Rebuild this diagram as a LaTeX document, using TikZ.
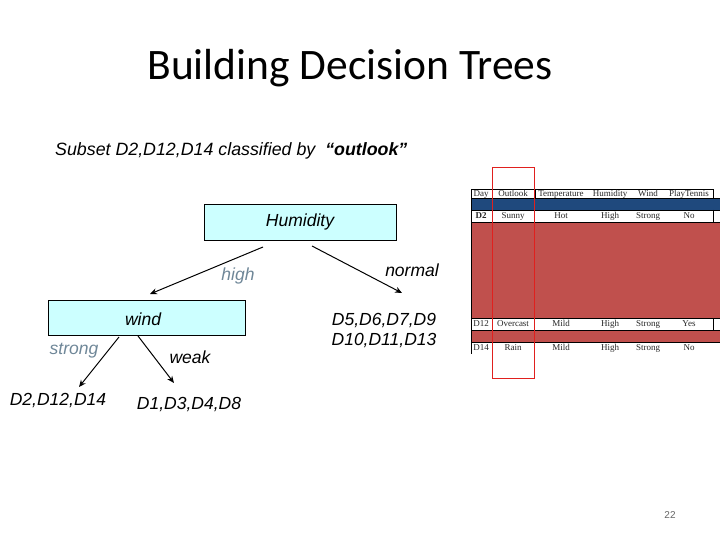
\documentclass[tikz,border=0pt]{standalone}
\usepackage{fontspec}
\setmainfont{Liberation Sans}
\newfontfamily\titlefont{Carlito}
\newfontfamily\tabfont{Liberation Serif}
\usetikzlibrary{arrows.meta}
\definecolor{boxfill}{HTML}{CCFFFF}
\definecolor{lblgray}{HTML}{6F8798}
\definecolor{bandblue}{HTML}{1F497D}
\definecolor{bandred}{HTML}{C0504D}
\definecolor{outred}{HTML}{E0201E}
\tikzset{
  x=1pt, y=-1pt,
  treebox/.style={draw=black, fill=boxfill, line width=0.8pt, inner sep=0pt},
  treetxt/.style={font=\fontsize{17.5}{20}\selectfont\itshape, inner sep=0pt},
  edgelbl/.style={treetxt, text=lblgray},
  arr/.style={-{Stealth[length=7pt,width=6pt]}, line width=1pt},
  tabtxt/.style={font=\tabfont\fontsize{9}{10}\selectfont, inner sep=0pt, text=black!85, text height=6.2pt, text depth=2pt},
  tabline/.style={draw=black, line width=0.6pt}
}
\begin{document}
\begin{tikzpicture}
\useasboundingbox (0,0) rectangle (720,540);
% title
\node[font=\titlefont\fontsize{43.5}{48}\selectfont, inner sep=0pt] (title) at (350,68) {Building Decision Trees};
\node[treetxt, font=\fontsize{17.8}{20}\selectfont\itshape, anchor=west] (sub) at (55,151) {Subset D2,D12,D14 classified by \ \textbf{``outlook''}};
% tree
\node[treebox, minimum width=192pt, minimum height=36pt] (hum) at (300,222) {};
\node[treetxt] (humt) at (hum.center) {Humidity};
\node[treebox, minimum width=197pt, minimum height=35pt] (wind) at (146.5,317.5) {};
\node[treetxt] (windt) at (143,319) {wind};
\coordinate (h1) at (263,247);
\coordinate (h2) at (150,294);
\coordinate (n1) at (312,246);
\coordinate (n2) at (402,293);
\coordinate (s1) at (119,337);
\coordinate (s2) at (79,387);
\coordinate (w1) at (138,336);
\coordinate (w2) at (174,383);
\draw[arr] (h1) -- (h2);
\draw[arr] (n1) -- (n2);
\draw[arr] (s1) -- (s2);
\draw[arr] (w1) -- (w2);
\node[edgelbl] (high) at (238,276) {high};
\node[treetxt] (normal) at (412,270) {normal};
\node[edgelbl] (strong) at (74,351) {strong};
\node[treetxt] (weak) at (190,357) {weak};
\node[treetxt] (leaf1) at (58,401) {D2,D12,D14};
\node[treetxt] (leaf2) at (189,405) {D1,D3,D4,D8};
\node[treetxt, align=center] (leaf3) at (384,331) {D5,D6,D7,D9\\D10,D11,D13};
% table
\fill[bandblue] (471,198) rectangle (720,210);
\draw[tabline] (471,198) -- (720,198) (471,210) -- (720,210) (471,198) -- (471,210);
\fill[bandred] (471,222) rectangle (720,318);
\draw[tabline] (471,222) -- (720,222) (471,318) -- (720,318) (471,222) -- (471,318);
\fill[bandred] (471,330) rectangle (720,342);
\draw[tabline] (471,330) -- (720,330) (471,342) -- (720,342) (471,330) -- (471,342);
\draw[tabline, line width=0.4pt] (471,189) rectangle (713,198);
\draw[tabline, line width=0.4pt] (535,189) -- (535,198);
\draw[tabline, line width=0.4pt] (471,210) -- (471,222) (713,210) -- (713,222) (492,210) -- (492,222);
\draw[tabline, line width=0.4pt] (471,318) -- (471,330) (713,318) -- (713,330) (492,318) -- (492,330);
\draw[tabline, line width=0.4pt] (471,342) -- (471,354) (492,342) -- (492,354);
\node[tabtxt] (hday) at (481,194) {Day};
\node[tabtxt] (hout) at (513,194) {Outlook};
\node[tabtxt] (htemp) at (561,194) {Temperature};
\node[tabtxt] (hhum) at (610,194) {Humidity};
\node[tabtxt] (hwind) at (648,194) {Wind};
\node[tabtxt] (hplay) at (689,194) {PlayTennis};
\node[tabtxt, font=\tabfont\fontsize{9}{10}\selectfont\bfseries] (r1a) at (481,216) {D2};
\node[tabtxt] (r1b) at (513,216) {Sunny};
\node[tabtxt] (r1c) at (561,216) {Hot};
\node[tabtxt] (r1d) at (610,216) {High};
\node[tabtxt] (r1e) at (648,216) {Strong};
\node[tabtxt] (r1f) at (689,216) {No};
\node[tabtxt] (r2a) at (481,324.5) {D12};
\node[tabtxt] (r2b) at (513,324.5) {Overcast};
\node[tabtxt] (r2c) at (561,324.5) {Mild};
\node[tabtxt] (r2d) at (610,324.5) {High};
\node[tabtxt] (r2e) at (648,324.5) {Strong};
\node[tabtxt] (r2f) at (689,324.5) {Yes};
\node[tabtxt] (r3a) at (481,348) {D14};
\node[tabtxt] (r3b) at (513,348) {Rain};
\node[tabtxt] (r3c) at (561,348) {Mild};
\node[tabtxt] (r3d) at (610,348) {High};
\node[tabtxt] (r3e) at (648,348) {Strong};
\node[tabtxt] (r3f) at (689,348) {No};
\draw[outred, line width=1pt] (492.5,168) rectangle (534,378);
% page number
\node[font=\fontsize{10}{12}\selectfont, text=black!60, inner sep=0pt] (pg) at (670,515) {22};
\end{tikzpicture}
\end{document}
